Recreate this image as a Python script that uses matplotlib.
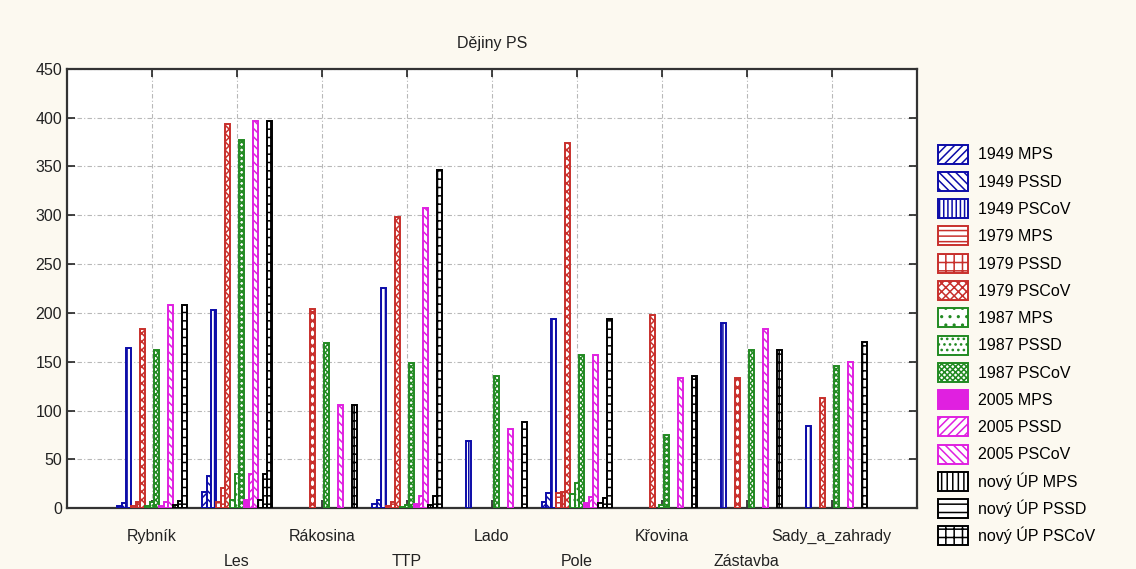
import matplotlib
matplotlib.use("Agg")
import matplotlib.pyplot as plt
import numpy as np
from matplotlib.patches import Patch

plt.rcParams['font.family'] = ['Liberation Sans', 'DejaVu Sans']
plt.rcParams['hatch.linewidth'] = 1.1

categories = ["Rybník", "Les", "Rákosina", "TTP", "Lado", "Pole", "Křovina", "Zástavba", "Sady_a_zahrady"]
series_names = ["1949 MPS", "1949 PSSD", "1949 PSCoV",
                "1979 MPS", "1979 PSSD", "1979 PSCoV",
                "1987 MPS", "1987 PSSD", "1987 PSCoV",
                "2005 MPS", "2005 PSSD", "2005 PSCoV",
                "nový ÚP MPS", "nový ÚP PSSD", "nový ÚP PSCoV"]

v1949_mps   = [2, 16, 0, 4.5, 0, 6, 0, 0, 0]
v1949_pssd  = [5, 33, 0, 8.6, 0, 15, 0, 0, 0]
v1949_pscov = [164, 203, 0, 225, 69, 194, 0, 190, 84]
v1979_mps   = [2, 6, 0, 2, 0, 15, 0, 0, 0]
v1979_pssd  = [6, 21, 0, 6, 0, 16, 0, 0, 0]
v1979_pscov = [184, 393, 204, 298, 0, 374, 198, 133, 113]
v1987_mps   = [2, 8, 0, 1, 0, 14, 0, 0, 0]
v1987_pssd  = [6, 35, 0, 3, 0, 26, 3, 0, 0]
v1987_pscov = [162, 377, 169, 149, 135, 157, 75, 162, 146]
v2005_mps   = [2, 8, 0, 4, 0, 5, 0, 0, 0]
v2005_pssd  = [6, 35, 0, 12, 0, 11, 0, 0, 0]
v2005_pscov = [208, 397, 106, 307, 81, 157, 133, 184, 150]
vnup_mps    = [3, 8, 0, 3, 0, 5, 0, 0, 0]
vnup_pssd   = [7, 35, 0, 12, 0, 10, 0, 0, 0]
vnup_pscov  = [208, 397, 106, 346, 88, 194, 135, 162, 170]

values = [v1949_mps, v1949_pssd, v1949_pscov, v1979_mps, v1979_pssd, v1979_pscov,
          v1987_mps, v1987_pssd, v1987_pscov, v2005_mps, v2005_pssd, v2005_pscov,
          vnup_mps, vnup_pssd, vnup_pscov]

blue, red, green, mag, blk = '#0c0ca8', '#c8302c', '#228a22', '#e020e0', '#000000'
styles = [
    (blue, '////', 'white'), (blue, '\\\\\\\\', 'white'), (blue, '||||', 'white'),
    (red, '---', 'white'), (red, '++', 'white'), (red, 'xxxx', 'white'),
    (green, '..', 'white'), (green, '...', 'white'), (green, 'xxxxxx', 'white'),
    (mag, '+', mag), (mag, '////', 'white'), (mag, '\\\\\\\\', 'white'),
    (blk, '|||', 'white'), (blk, '--', 'white'), (blk, '++', 'white'),
]

fig = plt.figure(figsize=(11.36, 5.69), dpi=100)
fig.patch.set_facecolor('#fcf9f0')
ax = fig.add_axes([0.059, 0.107, 0.748, 0.772])
ax.set_facecolor('white')

x = np.arange(1, len(categories) + 1)
n = len(values)
w = 0.055
handles = []
for i, (vals, (col, hatch, face)) in enumerate(zip(values, styles)):
    vals = np.asarray(vals, dtype=float)
    pos = x + (i - (n - 1) / 2) * w
    keep = vals > 0
    if i == 9:
        ax.bar(pos[keep], vals[keep], width=w, color=mag, edgecolor='white', hatch='+', linewidth=0, zorder=3)
        ax.bar(pos[keep], vals[keep], width=w, fill=False, edgecolor=mag, linewidth=1.4, zorder=4)
        handles.append(Patch(facecolor=mag, edgecolor=mag, linewidth=1.4, label=series_names[i]))
    else:
        ax.bar(pos[keep], vals[keep], width=w, facecolor=face, edgecolor=col, hatch=hatch,
               linewidth=1.4, zorder=3)
        handles.append(Patch(facecolor=face, edgecolor=col, hatch=hatch, linewidth=1.4,
                             label=series_names[i]))

ax.set_xlim(0, 10)
ax.set_ylim(0, 450)
ax.set_yticks(np.arange(0, 451, 50))
ax.set_xticks(x)
ax.set_xticklabels([c if k % 2 == 0 else "\n" + c for k, c in enumerate(categories)], linespacing=1.85)
ax.tick_params(axis='both', direction='in', length=6, width=1.2, top=True, right=True,
               labelsize=11.5, colors='#222222')
ax.tick_params(axis='x', pad=15)
ax.grid(True, color='#b8b8b8', linestyle=(0, (4, 2, 1, 2)), linewidth=0.8, zorder=0)
ax.set_axisbelow(True)
for s in ax.spines.values():
    s.set_linewidth(1.6)
    s.set_color('#333333')

ax.set_title("Dějiny PS", fontsize=11.5, pad=15, color='#222222')

leg = fig.legend(handles=handles, loc='upper left', bbox_to_anchor=(0.820, 0.757),
                 frameon=False, fontsize=11.5, handlelength=1.9, handleheight=1.45,
                 labelspacing=0.52, handletextpad=0.6, borderaxespad=0)

fig.savefig("out.png", dpi=100, facecolor=fig.get_facecolor())
